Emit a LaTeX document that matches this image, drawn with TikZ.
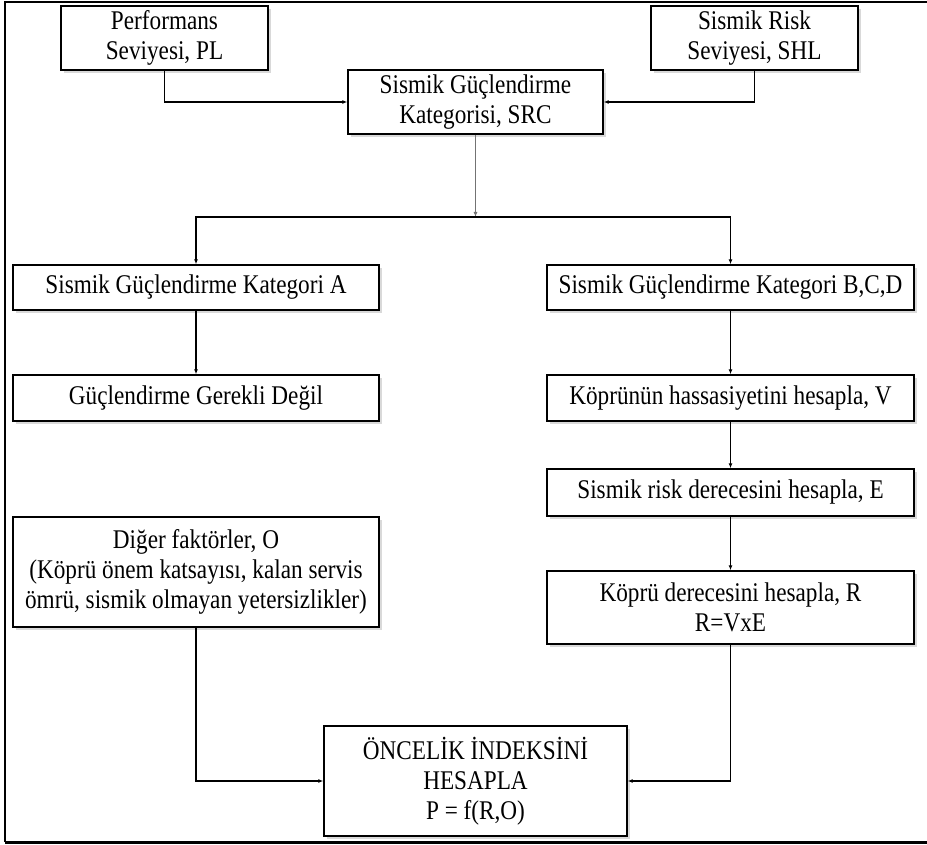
\documentclass[tikz,border=0pt]{standalone}
\usepackage{fontspec}
\setmainfont[FakeStretch=0.86]{Liberation Serif}
\usetikzlibrary{arrows.meta,shadows}

\tikzset{
  box/.style={draw, line width=1.4pt, fill=white, align=center, inner sep=0pt,
    drop shadow={shadow xshift=3pt, shadow yshift=-3pt, fill=black!15, opacity=1},
    font=\fontsize{27}{30}\selectfont},
  arr/.style={-{Latex[length=5pt,width=4pt]}, line width=1.2pt},
}

\begin{document}
\begin{tikzpicture}[x=1pt,y=-1pt]
    \useasboundingbox (0,0) rectangle (927,845);
    % frame
    \draw[line width=1.5pt] (935,2) -- (5,2) -- (5,842);
    \draw[line width=3pt] (5,842) -- (935,842);

    % top row
    \node[box, minimum width=207pt, minimum height=64pt] (pl) at (164.5,38) {Performans\\Seviyesi, PL};
    \node[box, minimum width=207pt, minimum height=64pt] (shl) at (754.5,38) {Sismik Risk\\Seviyesi, SHL};
    \node[box, minimum width=255pt, minimum height=64pt] (src) at (475.5,102) {Sismik Güçlendirme\\Kategorisi, SRC};

    % left column
    \node[box, minimum width=366pt, minimum height=45pt] (katA) at (196,287.5) {Sismik Güçlendirme Kategori A};
    \node[box, minimum width=366pt, minimum height=46pt] (gerekli) at (196,398) {Güçlendirme Gerekli Değil};
    \node[box, minimum width=366pt, minimum height=110pt] (diger) at (196,572) {Diğer faktörler, O\\(Köprü önem katsayısı, kalan servis\\ömrü, sismik olmayan yetersizlikler)};

    % right column
    \node[box, minimum width=367pt, minimum height=45pt] (katB) at (730.5,287.5) {Sismik Güçlendirme Kategori B,C,D};
    \node[box, minimum width=367pt, minimum height=46pt] (hassas) at (730.5,398) {Köprünün hassasiyetini hesapla, V};
    \node[box, minimum width=367pt, minimum height=47pt] (risk) at (730.5,492.5) {Sismik risk derecesini hesapla, E};
    \node[box, minimum width=367pt, minimum height=73pt] (derece) at (730.5,607.5) {Köprü derecesini hesapla, R\\R=VxE};

    % result
    \node[box, minimum width=303pt, minimum height=110pt] (oncelik) at (475.5,781) {ÖNCELİK İNDEKSİNİ\\HESAPLA\\P = f(R,O)};

    % connectors
    \draw[arr] (pl.south) |- (src.west);
    \draw[arr] (shl.south) |- (src.east);
    \coordinate (split) at (475.5,217);
    \draw[arr, black!55] (src.south) -- (split);
    \draw[arr] (split) -| (katA.north);
    \draw[arr] (split) -| (katB.north);
    \draw[arr] (katA) -- (gerekli);
    \foreach \a/\b in {katB/hassas, hassas/risk, risk/derece} {
        \draw[arr] (\a) -- (\b);
    }
    \draw[arr] (diger.south) |- (oncelik.west);
    \draw[arr] (derece.south) |- (oncelik.east);
\end{tikzpicture}
\end{document}
